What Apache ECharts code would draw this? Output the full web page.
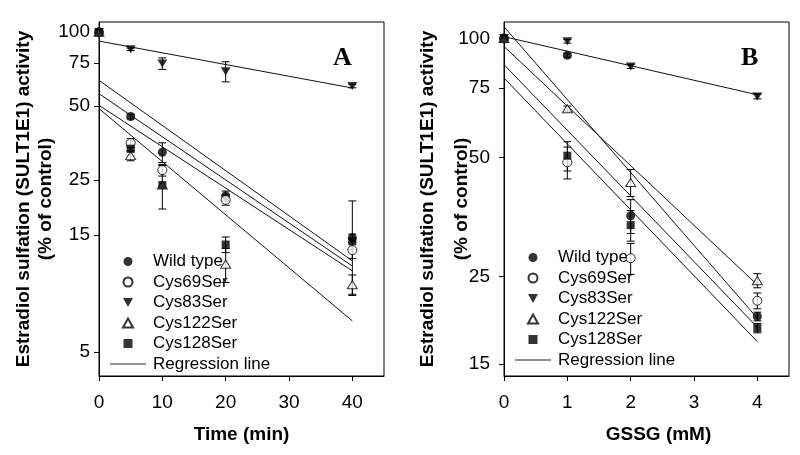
<!DOCTYPE html>
<html><head><meta charset="utf-8">
<script src="https://cdn.jsdelivr.net/npm/echarts@6/dist/echarts.min.js"></script>
<style>html,body{margin:0;padding:0;background:#fff}#c{width:800px;height:455px}</style>
</head><body><div id="c"></div>
<script>
// ---------- data ----------
const seriesNames = ['Wild type', 'Cys69Ser', 'Cys83Ser', 'Cys122Ser', 'Cys128Ser'];
const regName = 'Regression line';

// Panel A: Time (min)
const xA = [0, 5, 10, 20, 40];
const A_WT   = [100, 45.4, 32.5, 21.6, 14.6];
const A_C69  = [100, 35.4, 27.5, 20.8, 13.0];
const A_C83  = [100, 85.2, 74.6, 69.3, 60.4];
const A_C122 = [100, 31.5, 23.9, 11.4, 9.4];
const A_C128 = [100, 33.6, 23.9, 13.7, 14.1];
const A_errWT   = [0, 1, 3, 1, 6];
const A_errC69  = [0, 1.5, 1.5, 1, 1];
const A_errC83  = [0, 1, 4, 6.5, 1];
const A_errC122 = [0, 1.5, 0, 1.8, 0.9];
const A_errC128 = [0, 1, 4.8, 1, 1];
const A_regX = [0, 40];
const A_reg = [[63.7, 11.75], [56.2, 11.2], [50.4, 10.7], [48.9, 6.7], [92, 59.3]];
const A_yTicks = [5, 15, 25, 50, 75, 100];
const A_xTicks = [0, 10, 20, 30, 40];

// Panel B: GSSG (mM)
const xB = [0, 1, 2, 4];
const B_WT   = [100, 90.6, 35.6, 19.8];
const B_C69  = [100, 48.6, 27.8, 21.7];
const B_C83  = [100, 98.3, 84.9, 71.3];
const B_C122 = [100, 66.4, 43.2, 24.4];
const B_C128 = [100, 50.5, 33.7, 18.5];
const B_errWT   = [0, 1, 3.5, 0.5];
const B_errC69  = [0, 4.5, 2.5, 1];
const B_errC83  = [0, 1, 1, 1];
const B_errC122 = [0, 1, 3.4, 1];
const B_errC128 = [0, 4.3, 3, 0.5];
const B_regX = [0, 4];
const B_reg = [[107, 19.6], [95.4, 23.8], [85.8, 18.6], [79.4, 17.1], [101, 72]];
const B_yTicks = [15, 25, 50, 75, 100];
const B_xTicks = [0, 1, 2, 3, 4];

// ---------- styles ----------
const FONT = '"Liberation Sans", Arial, Helvetica, sans-serif';
const downTri = 'path://M0,0L10,0L5,9Z';
const upTri = 'path://M5,0L10,9L0,9Z';
const square = 'path://M0,0H10V10H0Z';
const markerStyles = [
  {symbol: 'circle', size: 9, item: {color: '#000'}},
  {symbol: 'circle', size: 9, item: {color: '#fff', borderColor: '#000', borderWidth: 1}},
  {symbol: downTri, size: [10, 9], item: {color: '#000'}},
  {symbol: upTri, size: [10, 9], item: {color: '#fff', borderColor: '#000', borderWidth: 1}},
  {symbol: square, size: 8, item: {color: '#000'}}
];

function scatterSeries(xArr, vals, k, gi) {
  const m = markerStyles[k];
  return {
    type: 'scatter', name: seriesNames[k], xAxisIndex: gi, yAxisIndex: gi,
    data: xArr.map((x, i) => [x, vals[i]]),
    symbol: m.symbol, symbolSize: m.size, symbolKeepAspect: true, itemStyle: m.item, z: 4,
    emphasis: {disabled: true}
  };
}
function errSeries(xArr, vals, errs, gi) {
  const data = [];
  xArr.forEach((x, i) => { if (errs[i] > 0) data.push([x, vals[i] - errs[i], vals[i] + errs[i]]); });
  return {
    type: 'custom', xAxisIndex: gi, yAxisIndex: gi, data: data, z: 1, silent: true,
    encode: {x: 0, y: [1, 2]},
    renderItem: function (params, api) {
      const x = api.value(0);
      const lo = api.coord([x, api.value(1)]);
      const hi = api.coord([x, api.value(2)]);
      const w = 4;
      const st = {stroke: '#000', lineWidth: 1};
      return {type: 'group', children: [
        {type: 'line', shape: {x1: lo[0], y1: lo[1], x2: hi[0], y2: hi[1]}, style: st},
        {type: 'line', shape: {x1: lo[0] - w, y1: lo[1], x2: lo[0] + w, y2: lo[1]}, style: st},
        {type: 'line', shape: {x1: hi[0] - w, y1: hi[1], x2: hi[0] + w, y2: hi[1]}, style: st}
      ]};
    }
  };
}
function regSeries(xr, pair, gi) {
  return {
    type: 'line', name: regName, xAxisIndex: gi, yAxisIndex: gi,
    data: [[xr[0], pair[0]], [xr[1], pair[1]]],
    symbol: 'none', lineStyle: {color: '#111', width: 1}, itemStyle: {color: '#111'},
    z: 2, silent: true, emphasis: {disabled: true}
  };
}

const series = [];
const A_vals = [A_WT, A_C69, A_C83, A_C122, A_C128];
const A_errs = [A_errWT, A_errC69, A_errC83, A_errC122, A_errC128];
const B_vals = [B_WT, B_C69, B_C83, B_C122, B_C128];
const B_errs = [B_errWT, B_errC69, B_errC83, B_errC122, B_errC128];
A_vals.forEach((v, k) => series.push(errSeries(xA, v, A_errs[k], 0)));
B_vals.forEach((v, k) => series.push(errSeries(xB, v, B_errs[k], 1)));
A_reg.forEach(p => series.push(regSeries(A_regX, p, 0)));
B_reg.forEach(p => series.push(regSeries(B_regX, p, 1)));
A_vals.forEach((v, k) => series.push(scatterSeries(xA, v, k, 0)));
B_vals.forEach((v, k) => series.push(scatterSeries(xB, v, k, 1)));

const tickLabel = {color: '#000', fontFamily: FONT, fontSize: 19};
function xAxis(gi, max, ticks, name, gap, namePad) {
  return {
    type: 'value', gridIndex: gi, min: 0, max: max,
    name: name, nameLocation: 'middle', nameGap: gap, nameMoveOverlap: false,
    nameTextStyle: {color: '#000', fontFamily: FONT, fontSize: 19, fontWeight: 'bold', padding: namePad},
    axisLine: {show: true, lineStyle: {color: '#000', width: 1}},
    axisTick: {show: true, inside: false, length: 5, customValues: ticks, lineStyle: {color: '#000'}},
    axisLabel: Object.assign({margin: 17, customValues: ticks}, tickLabel),
    splitLine: {show: false}, minorTick: {show: false}
  };
}
function yAxis(gi, min, max, ticks, gap, lh, margin) {
  return {
    type: 'log', logBase: 10, gridIndex: gi, min: min, max: max,
    name: 'Estradiol sulfation (SULT1E1) activity\n(% of control)',
    nameLocation: 'middle', nameRotate: 90, nameGap: gap, nameMoveOverlap: false,
    nameTextStyle: {color: '#000', fontFamily: FONT, fontSize: 19, fontWeight: 'bold', lineHeight: lh, align: 'center'},
    axisLine: {show: true, lineStyle: {color: '#000', width: 1}},
    axisTick: {show: true, inside: false, length: 5, customValues: ticks, lineStyle: {color: '#000'}},
    axisLabel: Object.assign({margin: margin, customValues: ticks, formatter: v => String(Math.round(v))}, tickLabel),
    splitLine: {show: false}, minorTick: {show: false}, minorSplitLine: {show: false}
  };
}
function legend(left, top) {
  const items = seriesNames.map(n => ({name: n}));
  items.push({name: regName, icon: 'path://M0,0H36V1H0Z', itemStyle: {color: '#222'}});
  return {
    orient: 'vertical', left: left, top: top, itemWidth: 36, itemHeight: 9, itemGap: 3.5,
    selectedMode: false, symbolKeepAspect: true,
    data: items,
    textStyle: {color: '#000', fontFamily: FONT, fontSize: 17, padding: [0, 0, 0, 2]}
  };
}

const serif = '"Liberation Serif", "Times New Roman", serif';
const option = {
  animation: false,
  backgroundColor: '#fff',
  title: [
    {text: 'A', left: 328, top: 40, textStyle: {fontFamily: serif, fontWeight: 'bold', fontSize: 26, color: '#000'}},
    {text: 'B', left: 736, top: 40, textStyle: {fontFamily: serif, fontWeight: 'bold', fontSize: 26, color: '#000'}}
  ],
  legend: [legend(105, 248), legend(510, 244)],
  grid: [
    {left: 99, right: 416, top: 22, bottom: 79, show: true, borderColor: '#000', borderWidth: 1, backgroundColor: 'transparent', containLabel: false},
    {left: 504, right: 11, top: 22, bottom: 79, show: true, borderColor: '#000', borderWidth: 1, backgroundColor: 'transparent', containLabel: false}
  ],
  xAxis: [xAxis(0, 45, A_xTicks, 'Time (min)', 49, [0, 0, 0, 0]), xAxis(1, 4.5, B_xTicks, 'GSSG (mM)', 49, [0, 0, 0, 24])],
  yAxis: [yAxis(0, 4, 110, A_yTicks, 42, 22, 9), yAxis(1, 14, 110, B_yTicks, 25, 34, 14)],
  series: series
};
const chart = echarts.init(document.getElementById('c'), null, {renderer: 'canvas'});
chart.setOption(option);
</script>
</body></html>
